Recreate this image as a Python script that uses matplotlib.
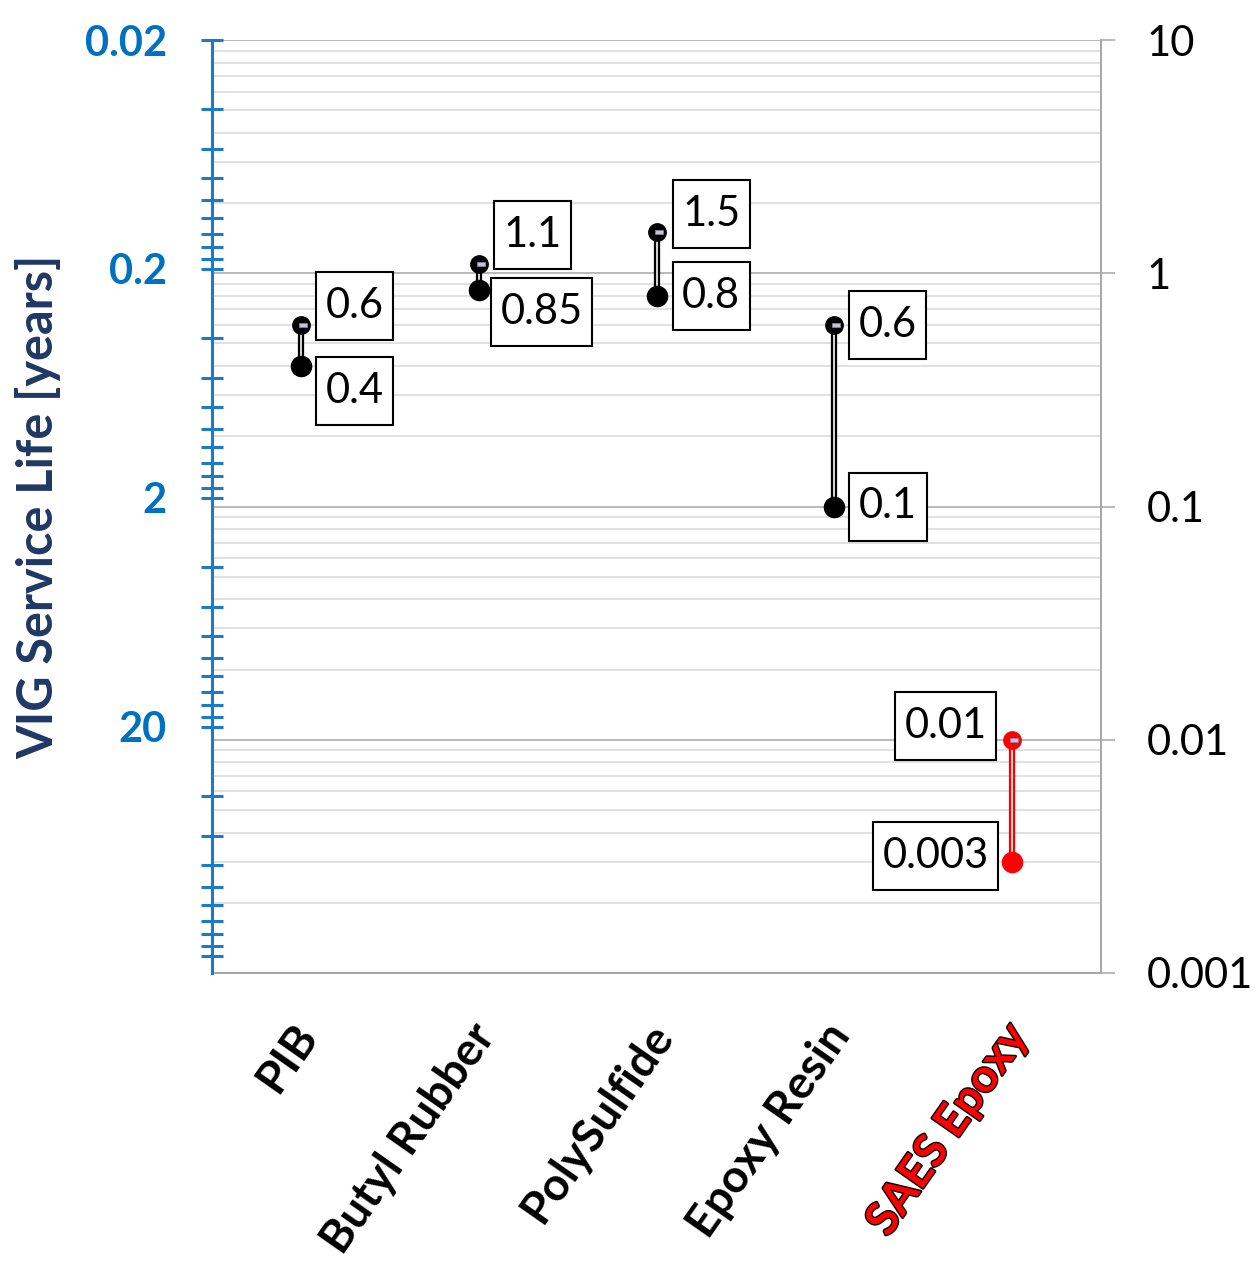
import numpy as np
import matplotlib
matplotlib.use("Agg")
import matplotlib.pyplot as plt
import matplotlib.patheffects as pe
from matplotlib.path import Path
from matplotlib.transforms import ScaledTranslation

plt.rcParams['font.family'] = ['Lato', 'DejaVu Sans']

# ---- data ----
categories = ["PIB", "Butyl Rubber", "PolySulfide", "Epoxy Resin", "SAES Epoxy"]
high = [0.6, 1.1, 1.5, 0.6, 0.01]
low = [0.4, 0.85, 0.8, 0.1, 0.003]
high_labels = ["0.6", "1.1", "1.5", "0.6", "0.01"]
low_labels = ["0.4", "0.85", "0.8", "0.1", "0.003"]
right_ticks = [10, 1, 0.1, 0.01, 0.001]
right_ticklabels = ["10", "1", "0.1", "0.01", "0.001"]
left_ticks = [0.02, 0.2, 2, 20]
left_ticklabels = ["0.02", "0.2", "2", "20"]
series_colors = ["black", "black", "black", "black", "#FF0000"]

# label box placement (pixels): (horizontal offset of box edge, vertical offset of box centre)
high_off = [(15, 19), (15, 28.5), (16, 18), (15, 0), (-16, 13.5)]
low_off = [(15, -25), (12, -22.5), (16, 0), (15, 0), (-14, 6)]

PADX, PADY = 0.23, 0.36


def label_box(x0, y0, width, height, mutation_size):
    px = PADX * mutation_size
    py = PADY * mutation_size
    x0, y0 = x0 - px, y0 - py
    x1, y1 = x0 + width + 2 * px, y0 + height + 2 * py
    return Path([(x0, y0), (x1, y0), (x1, y1), (x0, y1), (x0, y0)],
                [Path.MOVETO, Path.LINETO, Path.LINETO, Path.LINETO, Path.CLOSEPOLY])


W, H = 1255, 1268
fig = plt.figure(figsize=(W / 100, H / 100), dpi=100)
L, R, T, B = 212, 1101, 40, 973
rect = [L / W, 1 - B / H, (R - L) / W, (B - T) / H]

ax = fig.add_axes(rect)
ax.set_yscale('log')
ax.set_ylim(0.001, 10)
ax.set_xlim(0, len(categories))
x = np.arange(len(categories)) + 0.5

# grid & spines
ax.yaxis.tick_right()
ax.set_yticks(right_ticks, labels=right_ticklabels)
ax.yaxis.set_minor_locator(matplotlib.ticker.LogLocator(base=10, subs=np.arange(2, 10)))
ax.yaxis.set_minor_formatter(matplotlib.ticker.NullFormatter())
ax.grid(which='major', axis='y', color='#a6a6a6', lw=1.1)
ax.grid(which='minor', axis='y', color='#d9d9d9', lw=1.1)
ax.set_axisbelow(True)
for s in ['top', 'left']:
    ax.spines[s].set_visible(False)
for s in ['right', 'bottom']:
    ax.spines[s].set_color('#a6a6a6')
    ax.spines[s].set_linewidth(1.4)
ax.tick_params(axis='y', which='major', direction='out', length=10, width=1.1,
               color='#a6a6a6', pad=23, labelsize=30, labelcolor='black')
ax.tick_params(axis='y', which='minor', length=0)

ax.set_xticks(x, labels=categories)
ax.tick_params(axis='x', length=0, pad=40)
off = ScaledTranslation(7 / 100, 0, fig.dpi_scale_trans)
for lbl, c in zip(ax.get_xticklabels(), series_colors):
    lbl.set_rotation(55)
    lbl.set_ha('right')
    lbl.set_va('center')
    lbl.set_rotation_mode('anchor')
    lbl.set_fontsize(33)
    lbl.set_fontweight('bold')
    lbl.set_transform(lbl.get_transform() + off)
    if c != 'black':
        lbl.set_color(c)
        lbl.set_path_effects([pe.Stroke(linewidth=2.0, foreground='black'), pe.Normal()])

# range lines and markers
rect_marker = Path([(-1, -0.4), (1, -0.4), (1, 0.4), (-1, 0.4), (-1, -0.4)],
                   [Path.MOVETO, Path.LINETO, Path.LINETO, Path.LINETO, Path.CLOSEPOLY])
for i in range(len(categories)):
    c = series_colors[i]
    ax.plot([x[i], x[i]], [low[i], high[i]], color=c, lw=4.5, solid_capstyle='butt', zorder=3)
    ax.plot([x[i], x[i]], [low[i], high[i]], color='#e8e8e8', lw=1.3, solid_capstyle='butt', zorder=3.1)
    ax.plot([x[i]], [low[i]], 'o', ms=14.5, color=c, mec=c, zorder=4)
    ax.plot([x[i]], [high[i]], 'o', ms=12.5, color=c, mec=c, zorder=4)
    ax.plot([x[i]], [high[i]], marker=rect_marker, ms=6, color='#c9c3da', mec='#8a8a9a',
            mew=0.5, zorder=5, transform=ax.transData + ScaledTranslation(2 / 100, 0, fig.dpi_scale_trans))

    for val, txt, (dx, dy) in [(high[i], high_labels[i], high_off[i]),
                               (low[i], low_labels[i], low_off[i])]:
        pad_px = PADX * 30 * 100 / 72
        ha = 'left' if dx >= 0 else 'right'
        xt = dx + pad_px if dx >= 0 else dx - pad_px
        ax.annotate(txt, (x[i], val), xytext=(xt, dy), textcoords='offset pixels',
                    ha=ha, va='center', fontsize=30, color='black', zorder=6,
                    bbox=dict(boxstyle=label_box, fc='white', ec='black', lw=1.5))

# left (inverted) axis
blue = '#0070C0'
axl = fig.add_axes(rect)
axl.patch.set_visible(False)
for s in ['top', 'right', 'bottom']:
    axl.spines[s].set_visible(False)
axl.spines['left'].set_color('#1a7cc8')
axl.spines['left'].set_linewidth(2.2)
axl.set_yscale('log')
axl.set_ylim(237.3, 0.02)
axl.set_xticks([])
axl.set_yticks(left_ticks, labels=left_ticklabels)
minor_left = [k * 0.02 * 10 ** n for n in range(4) for k in range(2, 11) if k != 10 or n == 3]
axl.set_yticks(minor_left, minor=True)
axl.yaxis.set_minor_formatter(matplotlib.ticker.NullFormatter())
axl.tick_params(axis='y', which='both', direction='inout', length=16, width=2.2,
                color='#1a7cc8', pad=24.5)
axl.tick_params(axis='y', which='major', labelsize=30, labelcolor=blue)
for lbl in axl.get_yticklabels():
    lbl.set_fontweight('bold')

fig.text(38 / W, 1 - 507 / H, "VIG Service Life [years]", rotation=90, ha='center', va='center',
         fontsize=35, fontweight='bold', color='#1F3864')

fig.savefig("out.png", dpi=100)
